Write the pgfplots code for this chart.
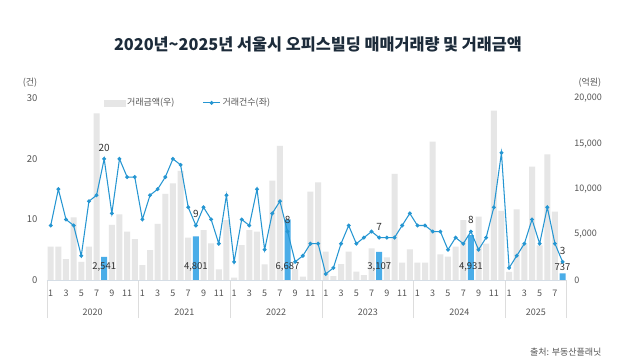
\documentclass[border=0pt]{standalone}
\usepackage{pgfplots}
\pgfplotsset{compat=1.18}
\usepackage{fontspec}
\setmainfont{Noto Sans CJK KR}
\definecolor{lineBlue}{HTML}{2596D2}
\definecolor{barBlue}{HTML}{4AADE8}
\definecolor{barGray}{HTML}{E6E6E6}
\definecolor{titleNavy}{HTML}{1C2B3A}
\definecolor{tickGray}{HTML}{555555}
\definecolor{sepGray}{HTML}{DDDDDD}
\definecolor{axisGray}{HTML}{D5DDE5}
\begin{document}
\begin{tikzpicture}
\path[use as bounding box, fill=white] (0,0) rectangle (640pt,360pt);
% bars: right axis
\begin{axis}[
  at={(46.9pt,80pt)}, anchor=south west,
  width=519.5pt, height=181.7pt, scale only axis,
  xmin=-0.5, xmax=67.5, ymin=0, ymax=20000,
  axis y line*=right, axis x line*=bottom,
  x axis line style={draw=none}, y axis line style={draw=none},
  xtick=\empty,
  ytick={0,5000,10000,15000,20000},
  ytick style={draw=none},
  scaled y ticks=false,
  yticklabel style={font=\fontsize{9}{11}\selectfont, text=tickGray, anchor=west, xshift=4.5pt},
  /pgf/number format/.cd, 1000 sep={,}, assume math mode=true,
  /pgfplots/.cd, clip=false
]
\addplot[ybar, bar width=6pt, bar shift=0pt, fill=barGray, draw=none] coordinates {
(0,3670)(1,3670)(2,2300)(3,6900)(4,2000)(5,3670)(6,18350)(8,6060)(9,7230)(10,5320)(11,4510)
(12,1650)(13,3300)(14,6170)(15,9470)(16,10640)(17,12000)(18,4660)(20,5500)(21,4040)(22,1170)(23,6600)
(24,260)(25,3850)(26,5500)(27,5320)(28,1720)(29,10940)(30,14750)(32,1200)(33,370)(34,9730)(35,10750)
(36,3120)(37,440)(38,1760)(39,3120)(40,920)(41,550)(42,3490)(44,2500)(45,11670)(46,1900)(47,3380)
(48,1900)(49,1900)(50,15230)(51,2830)(52,2570)(53,3670)(54,6600)(56,6970)(57,4000)(58,18640)(59,7600)
(60,900)(61,7780)(62,4000)(63,12480)(64,3800)(65,13840)(66,7520)
};
\addplot[ybar, bar width=6pt, bar shift=0pt, fill=barBlue, draw=none] coordinates {
(7,2541)(19,4801)(31,6687)(43,3107)(55,4931)(67,737)
};
\addplot[draw=none, mark=none, nodes near coords, point meta=explicit symbolic,
  every node near coord/.style={anchor=center, font=\fontsize{9.5}{11}\selectfont, text=black!80}]
  coordinates {
(7,1431)[2{,}541] (19,1431)[4{,}801] (31,1431)[6{,}687] (43,1431)[3{,}107] (55,1431)[4{,}931] (67,1431)[737]
};
\end{axis}
% line: left axis
\begin{axis}[
  at={(46.9pt,80pt)}, anchor=south west,
  width=519.5pt, height=181.7pt, scale only axis,
  xmin=-0.5, xmax=67.5, ymin=0, ymax=30,
  axis y line*=left, axis x line*=bottom,
  y axis line style={draw=none},
  x axis line style={draw=axisGray, line width=0.6pt},
  ytick={0,10,20,30}, ytick style={draw=none},
  yticklabel style={font=\fontsize{9.5}{11}\selectfont, text=tickGray, xshift=32pt},
  xtick={-0.5,11.5,23.5,35.5,47.5,59.5,67.5},
  xticklabels={},
  tick align=outside,
  major tick length=38pt,
  xtick style={draw=sepGray, line width=0.5pt},
  /pgf/number format/assume math mode=true,
  clip=false,
  legend style={draw=none, fill=none, at={(axis description cs:0.104,0.975)}, anchor=west,
    font=\fontsize{9}{10}\selectfont, text=tickGray, legend columns=2,
    /tikz/every even column/.append style={column sep=26pt}},
]
\addlegendimage{legend image code/.code={\fill[barGray] (0cm,-0.11cm) rectangle (0.72cm,0.11cm);}}
\addlegendentry{거래금액(우)}
\addplot[color=lineBlue, line width=1.05pt, mark=*, mark size=1.4pt, mark options={fill=lineBlue, draw=lineBlue}] coordinates {
(0,9)(1,15)(2,10)(3,9)(4,4)(5,13)(6,14)(7,20)(8,11)(9,20)(10,17)(11,17)
(12,10)(13,14)(14,15)(15,17)(16,20)(17,19)(18,12)(19,9)(20,12)(21,10)(22,6)(23,14)
(24,3)(25,10)(26,9)(27,15)(28,5)(29,11)(30,13)(31,8)(32,3)(33,4)(34,6)(35,6)
(36,1)(37,2)(38,6)(39,9)(40,6)(41,7)(42,8)(43,7)(44,7)(45,7)(46,9)(47,11)
(48,9)(49,9)(50,8)(51,8)(52,5)(53,7)(54,6)(55,8)(56,5)(57,7)(58,12)(59,21)
(60,2)(61,4)(62,6)(63,10)(64,6)(65,12)(66,6)(67,3)
};
\addlegendentry{거래건수(좌)}
\addplot[forget plot, draw=none, mark=none, nodes near coords, point meta=explicit symbolic,
  every node near coord/.style={anchor=south, yshift=4pt, font=\fontsize{10}{11}\selectfont, text=black!80}]
  coordinates {(7,20)[20] (19,9)[9] (31,8)[8] (43,7)[7] (55,8)[8] (67,3)[3]};
\foreach \xc/\mo in {0/1,2/3,4/5,6/7,8/9,10/11,12/1,14/3,16/5,18/7,20/9,22/11,24/1,26/3,28/5,30/7,32/9,34/11,36/1,38/3,40/5,42/7,44/9,46/11,48/1,50/3,52/5,54/7,56/9,58/11,60/1,62/3,64/5,66/7}{
  \edef\tmp{\noexpand\node[font=\noexpand\fontsize{9}{10}\noexpand\selectfont, text=tickGray, anchor=base] at (axis cs:\xc,0) [yshift=-16.5pt] {\mo};}
  \tmp
}
\foreach \yr/\xc in {2020/5.5,2021/17.5,2022/29.5,2023/41.5,2024/53.5,2025/63.5}{
  \edef\tmp{\noexpand\node[font=\noexpand\fontsize{9}{10}\noexpand\selectfont, text=tickGray] at (axis cs:\xc,0) [yshift=-32pt] {\yr};}
  \tmp
}
\end{axis}
\node[font=\fontsize{9}{10}\selectfont, text=tickGray] at (30pt,277pt) {(건)};
\node[font=\fontsize{9}{10}\selectfont, text=tickGray, anchor=west] at (575pt,277pt) {(억원)};
\node[font=\fontsize{16.3}{18}\selectfont\bfseries, text=titleNavy] at (318pt,316pt) {2020년\textasciitilde 2025년 서울시 오피스빌딩 매매거래량 및 거래금액};
\node[font=\fontsize{9}{10}\selectfont, text=tickGray, anchor=east] at (605pt,8pt) {출처: 부동산플래닛};
\end{tikzpicture}
\end{document}
